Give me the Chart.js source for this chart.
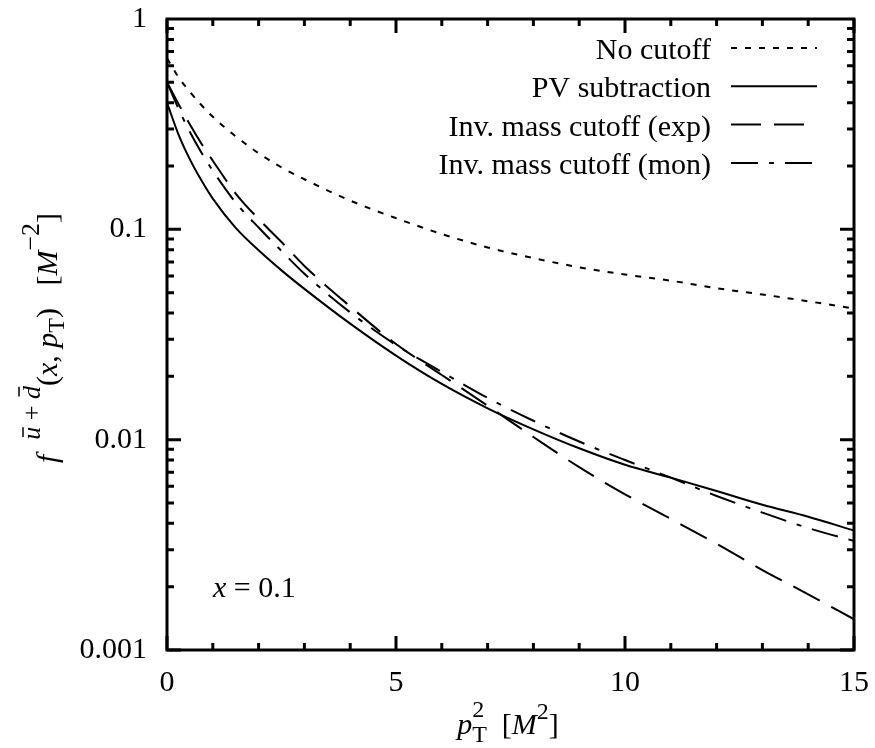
<!DOCTYPE html>
<html>
<head>
<meta charset="utf-8">
<script src="https://cdn.jsdelivr.net/npm/chart.js@4/dist/chart.umd.min.js"></script>
<style>
  html, body { margin: 0; padding: 0; background: #fff; }
  #wrap { width: 875px; height: 748px; position: relative; }
</style>
</head>
<body>
<div id="wrap"><canvas id="c"></canvas></div>
<script>
// ---- data ----
const pT2 = [0, 0.25, 0.5, 0.75, 1, 1.5, 2, 2.5, 3, 4, 5, 6, 7, 8, 9, 10, 11, 12, 13, 14, 15];
const noCutoff = [0.65, 0.53, 0.45, 0.39, 0.343, 0.277, 0.23, 0.197, 0.173, 0.137, 0.113, 0.095, 0.082, 0.073, 0.066, 0.061, 0.057, 0.0525, 0.049, 0.0455, 0.042];
const pvSubtraction = [0.40, 0.283, 0.215, 0.171, 0.140, 0.1016, 0.0795, 0.0638, 0.0521, 0.0356, 0.0251, 0.0184, 0.0141, 0.0112, 0.0091, 0.0076, 0.0066, 0.0057, 0.0049, 0.0043, 0.0037];
const invMassExp = [0.50, 0.395, 0.315, 0.256, 0.212, 0.148, 0.112, 0.087, 0.067, 0.043, 0.0285, 0.0203, 0.0145, 0.0103, 0.0074, 0.0055, 0.0042, 0.0032, 0.0024, 0.00184, 0.0014];
const invMassMon = [0.50, 0.375, 0.29, 0.232, 0.19, 0.134, 0.102, 0.079, 0.0615, 0.0403, 0.0282, 0.021, 0.0158, 0.0123, 0.0098, 0.008, 0.0066, 0.0054, 0.0045, 0.0038, 0.0033];
const seriesLabels = ['No cutoff', 'PV subtraction', 'Inv. mass cutoff (exp)', 'Inv. mass cutoff (mon)'];
const xTickValues = [0, 5, 10, 15];
const yTickValues = [0.001, 0.01, 0.1, 1];
const annotationText = '0.1';

const SERIF = '"Liberation Serif", "Times New Roman", serif';
const FS = 30;

function mk(label, arr, dash) {
  return {
    label: label,
    data: pT2.map((x, i) => ({ x: x, y: arr[i] })),
    borderColor: '#000',
    borderWidth: 2,
    borderDash: dash,
    pointRadius: 0,
    fill: false,
    cubicInterpolationMode: 'monotone'
  };
}

function richWidth(ctx, segs) {
  let cx = 0, prev = 0;
  for (const s of segs) {
    ctx.font = s.font;
    const sx = s.stack ? prev : cx;
    const w = ctx.measureText(s.t).width;
    cx = Math.max(cx, sx + w);
    prev = sx;
  }
  return cx;
}
function drawRich(ctx, segs, x, y) {
  let cx = x, prev = x;
  for (const s of segs) {
    ctx.font = s.font;
    const sx = s.stack ? prev : cx;
    const w = ctx.measureText(s.t).width;
    ctx.fillText(s.t, sx, y + (s.dy || 0));
    if (s.bar) {
      ctx.beginPath();
      ctx.lineWidth = 1.5;
      ctx.moveTo(sx + w * 0.2, y + (s.dy || 0) + s.bar);
      ctx.lineTo(sx + w * 0.95, y + (s.dy || 0) + s.bar);
      ctx.stroke();
    }
    cx = Math.max(cx, sx + w);
    prev = sx;
  }
}

const N = FS + 'px ' + SERIF;
const I = 'italic ' + FS + 'px ' + SERIF;
const SN = '24px ' + SERIF;
const SI = 'italic 24px ' + SERIF;
const YSN = '26px ' + SERIF;
const YSI = 'italic 26px ' + SERIF;

const framePlugin = {
  id: 'frame',
  afterDatasetsDraw(chart) {
    const ctx = chart.ctx;
    const a = chart.chartArea;
    const xs = chart.scales.x, ys = chart.scales.y;
    ctx.save();
    ctx.strokeStyle = '#000';
    ctx.fillStyle = '#000';
    ctx.lineWidth = 3;
    ctx.lineCap = 'butt';
    // ticks (inward, mirrored)
    ctx.beginPath();
    for (let v = 0; v <= 15; v++) {
      const px = xs.getPixelForValue(v);
      const L = (v % 5 === 0) ? 14 : 7;
      ctx.moveTo(px, a.bottom); ctx.lineTo(px, a.bottom - L);
      ctx.moveTo(px, a.top); ctx.lineTo(px, a.top + L);
    }
    for (let e = -3; e < 0; e++) {
      for (let m = 1; m <= 9; m++) {
        const v = m * Math.pow(10, e);
        const py = ys.getPixelForValue(v);
        const L = (m === 1) ? 14 : 7;
        ctx.moveTo(a.left, py); ctx.lineTo(a.left + L, py);
        ctx.moveTo(a.right, py); ctx.lineTo(a.right - L, py);
      }
    }
    ctx.stroke();
    // frame
    ctx.lineWidth = 3;
    ctx.strokeRect(a.left, a.top, a.right - a.left, a.bottom - a.top);

    // legend
    const dsets = chart.data.datasets;
    ctx.textAlign = 'right';
    ctx.textBaseline = 'alphabetic';
    ctx.font = N;
    dsets.forEach((d, i) => {
      const ly = 48 + 38.3 * i;
      ctx.fillText(d.label, 711, ly + 11);
      ctx.beginPath();
      ctx.lineWidth = 2;
      ctx.setLineDash(d.borderDash || []);
      ctx.moveTo(731, ly); ctx.lineTo(817, ly);
      ctx.stroke();
      ctx.setLineDash([]);
    });

    // annotation x = 0.1
    ctx.textAlign = 'left';
    drawRich(ctx, [
      { t: 'x', font: I },
      { t: ' = ' + annotationText, font: N }
    ], 213, 597);

    // x-axis title
    const xt = [
      { t: 'p', font: I },
      { t: '2', font: SN, dy: -17 },
      { t: 'T', font: SN, dy: 8, stack: true },
      { t: '  [', font: N },
      { t: 'M', font: I },
      { t: '2', font: SN, dy: -15 },
      { t: ']', font: N }
    ];
    const xw = richWidth(ctx, xt);
    drawRich(ctx, xt, 508 - xw / 2, 734);

    // y-axis title (rotated)
    const yt = [
      { t: 'f  ', font: I },
      { t: 'u', font: YSI, dy: -17, bar: -17 },
      { t: ' + ', font: YSN, dy: -17 },
      { t: 'd', font: YSI, dy: -17, bar: -21 },
      { t: '(', font: N },
      { t: 'x', font: I },
      { t: ', ', font: N },
      { t: 'p', font: I },
      { t: 'T', font: SN, dy: 7 },
      { t: ')', font: N },
      { t: '   [', font: N },
      { t: 'M', font: I },
      { t: '−2', font: YSN, dy: -18 },
      { t: ']', font: N }
    ];
    const yw = richWidth(ctx, yt);
    ctx.translate(57, 338);
    ctx.rotate(-Math.PI / 2);
    drawRich(ctx, yt, -yw / 2, 0);
    ctx.restore();
  }
};

new Chart(document.getElementById('c'), {
  type: 'line',
  data: {
    datasets: [
      mk(seriesLabels[0], noCutoff, [6, 8]),
      mk(seriesLabels[1], pvSubtraction, []),
      mk(seriesLabels[2], invMassExp, [30, 13]),
      mk(seriesLabels[3], invMassMon, [27, 11, 5, 11])
    ]
  },
  options: {
    responsive: true,
    maintainAspectRatio: false,
    animation: false,
    devicePixelRatio: 1,
    layout: { padding: { top: 19, right: 21, left: 0, bottom: 0 } },
    plugins: { legend: { display: false }, tooltip: { enabled: false } },
    scales: {
      x: {
        type: 'linear', min: 0, max: 15,
        afterBuildTicks: s => { s.ticks = xTickValues.map(v => ({ value: v })); },
        afterFit: s => { s.height = 98; s.paddingLeft = 0; s.paddingRight = 0; },
        ticks: { color: '#000', font: { family: SERIF, size: FS }, padding: 15, maxRotation: 0, autoSkip: false },
        grid: { display: false, drawTicks: false },
        border: { display: false }
      },
      y: {
        type: 'logarithmic', min: 0.001, max: 1,
        afterBuildTicks: s => { s.ticks = yTickValues.map(v => ({ value: v })); },
        afterFit: s => { s.width = 167; s.paddingTop = 0; s.paddingBottom = 0; },
        ticks: { color: '#000', font: { family: SERIF, size: FS }, padding: 20, autoSkip: false,
                 callback: v => String(v) },
        grid: { display: false, drawTicks: false },
        border: { display: false }
      }
    }
  },
  plugins: [framePlugin]
});
</script>
</body>
</html>
